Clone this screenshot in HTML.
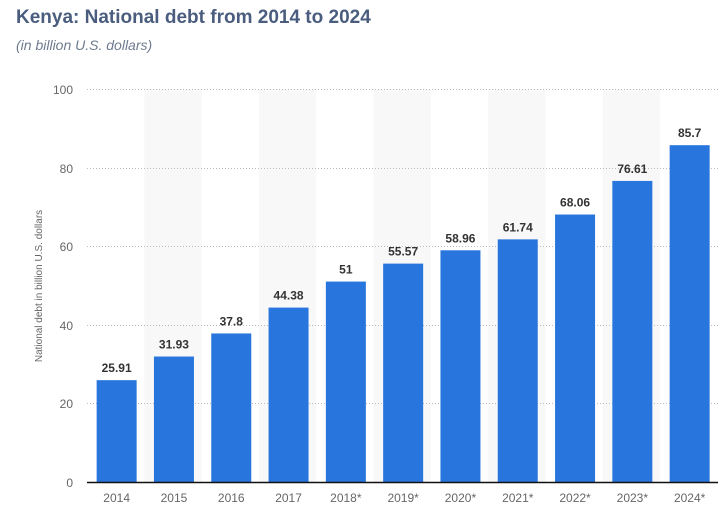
<!DOCTYPE html><html><head><style>body{margin:0;background:#fff;width:725px;height:510px;overflow:hidden;font-family:"Liberation Sans",sans-serif}</style></head><body>
<svg width="725" height="510" xmlns="http://www.w3.org/2000/svg" font-family="Liberation Sans, sans-serif">
<text x="16" y="23" font-size="19" font-weight="bold" fill="#4a5d7e">Kenya: National debt from 2014 to 2024</text>
<text x="16" y="50" font-size="14" font-style="italic" fill="#6e7b8f">(in billion U.S. dollars)</text>
<g fill="#f8f8f8">
<rect x="144.3" y="89" width="57.3" height="393"/><rect x="258.9" y="89" width="57.3" height="393"/><rect x="373.5" y="89" width="57.3" height="393"/><rect x="488.1" y="89" width="57.3" height="393"/><rect x="602.7" y="89" width="57.3" height="393"/>
</g>
<g stroke="#bbb" stroke-dasharray="1,2" stroke-width="1">
<line x1="87" x2="718" y1="89.5" y2="89.5"/><line x1="87" x2="718" y1="168.5" y2="168.5"/><line x1="87" x2="718" y1="246.5" y2="246.5"/><line x1="87" x2="718" y1="325.5" y2="325.5"/><line x1="87" x2="718" y1="403.5" y2="403.5"/>
</g>
<g font-size="12" fill="#666" text-anchor="end">
<text x="73" y="94">100</text><text x="73" y="173">80</text><text x="73" y="251">60</text><text x="73" y="330">40</text><text x="73" y="408">20</text><text x="73" y="487">0</text>
</g>
<text transform="translate(42,286) rotate(-90)" font-size="10" fill="#666" text-anchor="middle">National debt in billion U.S. dollars</text>
<g fill="#2876dd">
<rect x="96.65" y="380.17" width="40" height="101.83"/>
<rect x="153.95" y="356.52" width="40" height="125.48"/>
<rect x="211.25" y="333.45" width="40" height="148.55"/>
<rect x="268.55" y="307.59" width="40" height="174.41"/>
<rect x="325.85" y="281.57" width="40" height="200.43"/>
<rect x="383.15" y="263.61" width="40" height="218.39"/>
<rect x="440.45" y="250.29" width="40" height="231.71"/>
<rect x="497.75" y="239.36" width="40" height="242.64"/>
<rect x="555.05" y="214.52" width="40" height="267.48"/>
<rect x="612.35" y="180.92" width="40" height="301.08"/>
<rect x="669.65" y="145.2" width="40" height="336.8"/>
</g>
<g font-size="12" font-weight="bold" fill="#333" text-anchor="middle">
<text x="116.65" y="372">25.91</text>
<text x="173.95" y="348.5">31.93</text>
<text x="231.25" y="325.5">37.8</text>
<text x="288.55" y="299.5">44.38</text>
<text x="345.85" y="273.5">51</text>
<text x="403.15" y="255.5">55.57</text>
<text x="460.45" y="242.3">58.96</text>
<text x="517.75" y="231.4">61.74</text>
<text x="575.05" y="206.5">68.06</text>
<text x="632.35" y="172.9">76.61</text>
<text x="689.65" y="137.2">85.7</text>
</g>
<g font-size="12" fill="#666" text-anchor="middle">
<text x="116.65" y="502">2014</text><text x="173.95" y="502">2015</text><text x="231.25" y="502">2016</text><text x="288.55" y="502">2017</text><text x="345.85" y="502">2018*</text><text x="403.15" y="502">2019*</text><text x="460.45" y="502">2020*</text><text x="517.75" y="502">2021*</text><text x="575.05" y="502">2022*</text><text x="632.35" y="502">2023*</text><text x="689.65" y="502">2024*</text>
</g>
<line x1="87" x2="718" y1="482.5" y2="482.5" stroke="#111" stroke-width="1.5"/>
</svg></body></html>
